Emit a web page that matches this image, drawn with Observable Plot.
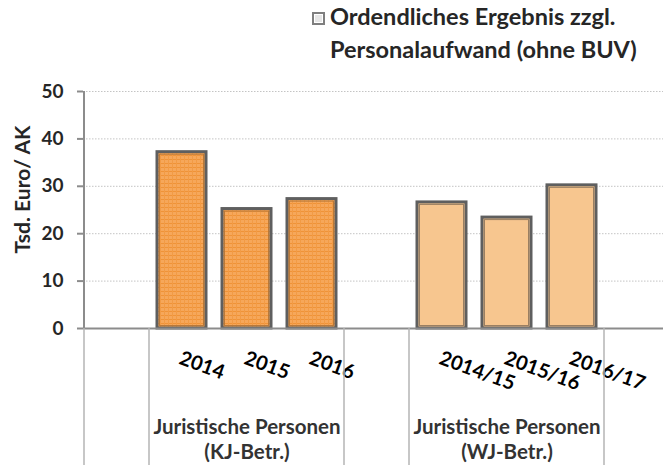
<!DOCTYPE html>
<html><head><meta charset="utf-8">
<script src="https://cdn.jsdelivr.net/npm/d3@7"></script>
<script src="https://cdn.jsdelivr.net/npm/@observablehq/plot@0.6"></script>
<style>
body{margin:0;background:#fff;width:663px;height:465px;overflow:hidden;font-family:Lato,sans-serif;}
#legend{position:relative;height:75px;}
#legend .sw{position:absolute;left:312px;top:12px;width:9px;height:9px;border:2px solid #7f7f7f;background:#e6e6e6;box-shadow:inset 0 0 0 1px #fff;}
#legend .t{position:absolute;left:330px;font-weight:bold;font-size:23.5px;color:#262626;line-height:1;white-space:nowrap;}
#chart svg{display:block;}
</style></head><body>
<div id="legend"><div class="sw"></div><div class="t" style="top:5px">Ordendliches Ergebnis zzgl.</div><div class="t" style="top:38px">Personalaufwand (ohne BUV)</div></div>
<div id="chart"></div>
<script>
// slots on the category axis (blank slots are spacers)
const slots = ["·1","2014","2015","2016","·2","2014/15","2015/16","2016/17","·3"];
const categories = ["2014","2015","2016","2014/15","2015/16","2016/17"];
const values = [37.2, 25.2, 27.3, 26.6, 23.4, 30.2];
const groupOf = ["KJ","KJ","KJ","WJ","WJ","WJ"];
const groupCenters = ["2015","2015/16"];
const groupLabels = ["Juristische Personen\n(KJ-Betr.)","Juristische Personen\n(WJ-Betr.)"];
const yTicks = [0,10,20,30,40,50];
const yLabel = "Tsd. Euro/ AK";
// boundaries: left edges of these slots, plus right edge of last
const sepLeftOf = ["·1","2014","·2","2014/15","·3"];

const data = categories.map((c,i)=>({cat:c, value:values[i], group:groupOf[i]}));
const kj = data.filter(d=>d.group==="KJ");
const wj = data.filter(d=>d.group==="WJ");
const groups = groupCenters.map((c,i)=>({cat:c, label:groupLabels[i]}));

const plot = Plot.plot({
  width: 663, height: 390,
  marginLeft: 83, marginRight: 0, marginTop: 16, marginBottom: 137,
  style: {fontFamily: "Lato, sans-serif", fontWeight: "bold", background: "transparent", overflow: "visible"},
  x: {domain: slots, range: [84, 669], paddingInner: 0.24, paddingOuter: 0.12, axis: null},
  y: {domain: [0, 50], axis: null},
  marks: [
    Plot.ruleY(yTicks.filter(t=>t>0), {stroke: "#c4c4c4", strokeDasharray: "1.5,1.5", strokeWidth: 1}),
    Plot.axisY({ticks: yTicks, tickSize: 6, tickPadding: 14, label: null, stroke: "#8c8c8c", strokeWidth: 2,
      fill: "#262626", fontSize: 19, fontWeight: "bold", tickFormat: d=>String(d)}),
    Plot.barY(kj, {x: "cat", y: "value", fill: "url(#kjpat)", stroke: "#5f5f5f", strokeWidth: 3}),
    Plot.barY(kj, {x: "cat", y: "value", fill: "none", stroke: "#b8793a", strokeWidth: 1, inset: 2.5}),
    Plot.barY(wj, {x: "cat", y: "value", fill: "#F7C68F", stroke: "#5f5f5f", strokeWidth: 3}),
    Plot.barY(wj, {x: "cat", y: "value", fill: "none", stroke: "#9a7f62", strokeWidth: 1, inset: 2.5}),
    Plot.ruleY([0], {stroke: "#8c8c8c", strokeWidth: 2}),
    Plot.text(categories, {x: d=>d, y: 0, dx: -4, dy: 35, rotate: 20, textAnchor: "start", lineAnchor: "bottom",
      fontSize: 20, fontWeight: "bold", fill: "#000"}),
    Plot.text(groups, {x: "cat", y: 0, text: "label", dy: 110, textAnchor: "middle", lineAnchor: "middle",
      lineHeight: 1.2, fontSize: 20.5, fontWeight: "bold", fill: "#333"}),
    Plot.text([yLabel], {frameAnchor: "top-left", dx: -60, dy: 98, rotate: -90, textAnchor: "middle",
      lineAnchor: "middle", fontSize: 21, fontWeight: "bold", fill: "#262626"})
  ]
});

// pattern for the KJ bars
const svg = d3.select(plot);
const defs = svg.insert("defs", ":first-child");
const pat = defs.append("pattern").attr("id","kjpat").attr("width",4).attr("height",4).attr("patternUnits","userSpaceOnUse");
pat.append("rect").attr("width",4).attr("height",4).attr("fill","#F6A75A");
pat.append("rect").attr("width",4).attr("height",1).attr("fill","#EF9338");
pat.append("rect").attr("width",1).attr("height",4).attr("fill","#F29B45");

// axis line and group separators, positioned with the plot's own scales
const sxo = plot.scale("x");
const sx = Plot.scale({x: sxo});
const sy = Plot.scale({y: plot.scale("y")});
const gap = (sxo.step - sxo.bandwidth) / 2;
const seps = sepLeftOf.map(s => sx.apply(s) - gap);
seps.push(sx.apply(slots[slots.length-1]) + sxo.bandwidth + gap);
const g = svg.append("g");
g.selectAll("line.sep").data(seps).join("line")
  .attr("x1", d=>d).attr("x2", d=>d)
  .attr("y1", sy.apply(0)).attr("y2", 390)
  .attr("stroke", "#b5b5b5").attr("stroke-width", 1.5);
g.append("line").attr("x1", seps[0]).attr("x2", seps[0])
  .attr("y1", sy.apply(50)).attr("y2", sy.apply(0))
  .attr("stroke", "#8c8c8c").attr("stroke-width", 2);

document.getElementById("chart").append(plot);
</script>
</body></html>
